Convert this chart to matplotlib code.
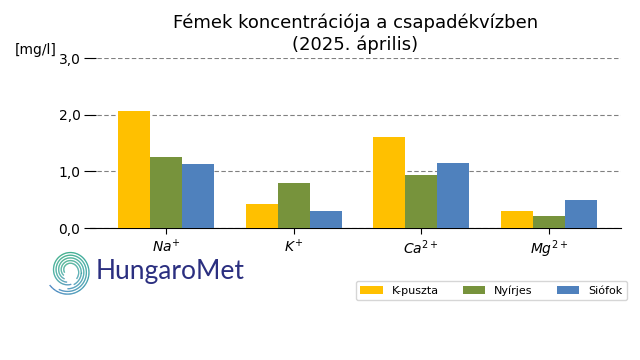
import numpy as np
import matplotlib.pyplot as plt
from matplotlib.collections import LineCollection

ions = ['$Na^{+}$', '$K^{+}$', '$Ca^{2+}$', '$Mg^{2+}$']
stations = ['K-puszta', 'Nyírjes', 'Siófok']
kpuszta = [2.06, 0.42, 1.61, 0.30]
nyirjes = [1.25, 0.79, 0.93, 0.21]
siofok = [1.13, 0.30, 1.15, 0.49]
colors = ['#FFC000', '#77933C', '#4F81BD']
yticks = [0.0, 1.0, 2.0, 3.0]

fig = plt.figure(figsize=(6.4, 3.6), dpi=100)
ax = fig.add_axes([89.5 / 640, 1 - 228 / 360, 531.5 / 640, 170 / 360])

x = np.arange(len(ions))
w = 0.25
for i, (vals, name) in enumerate(zip([kpuszta, nyirjes, siofok], stations)):
    ax.bar(x + (i - 1) * w, vals, w, color=colors[i], label=name, zorder=3)

ax.set_xlim(-0.6, 3.565)
ax.set_ylim(0, 3.0)
ax.set_yticks(yticks)
ax.set_yticklabels([('%.1f' % v).replace('.', ',') for v in yticks], fontsize=10)
ax.set_xticks(x)
ax.set_xticklabels(ions, fontsize=10)
ax.yaxis.grid(True, linestyle=(0, (4, 2.2)), color='grey', linewidth=0.8, zorder=0)
for s in ['top', 'right', 'left']:
    ax.spines[s].set_visible(False)
ax.tick_params(axis='y', direction='inout', length=9, width=0.8, pad=2)
ax.tick_params(axis='x', length=4)

ax.set_title('Fémek koncentrációja a csapadékvízben\n(2025. április)', fontsize=13)
fig.text(15 / 640, 1 - 50 / 360, '[mg/l]', fontsize=10, va='center', ha='left')

ax.legend(loc='upper right', bbox_to_anchor=(627 / 640, 1 - 281 / 360),
          bbox_transform=fig.transFigure, borderaxespad=0, ncol=3, fontsize=8,
          handlelength=2.0, columnspacing=2.2, borderpad=0.4, frameon=True)

# logo: spiral ribbon + name
lax = fig.add_axes([45 / 640, 1 - 296 / 360, 48 / 640, 50 / 360])
lax.set_xlim(-1.02, 1.02)
lax.set_ylim(-1.02, 1.02)
lax.axis('off')
cmap = plt.matplotlib.colors.LinearSegmentedColormap.from_list(
    'hm', ['#2a6fb8', '#1f86a6', '#14998a', '#0e9a6c', '#1a9a8c', '#2475b0'])
for k in range(5):
    t0 = np.radians(215 + k * 25)
    th = np.linspace(t0, np.radians(640 - k * 20), 200)
    frac = (th - np.radians(215)) / np.radians(425)
    r = 1.0 - 0.45 * frac - k * 0.11
    pts = np.column_stack([r * np.cos(th), r * np.sin(th)]).reshape(-1, 1, 2)
    segs = np.concatenate([pts[:-1], pts[1:]], axis=1)
    lc = LineCollection(segs, cmap=cmap, linewidth=0.9)
    lc.set_array(frac[:-1])
    lc.set_clim(0, 1)
    lax.add_collection(lc)
fig.text(96 / 640, 1 - 271 / 360, 'HungaroMet', fontsize=19, color='#2b2f80',
         va='center', ha='left', family='Lato')

fig.savefig('out.png', dpi=100)
